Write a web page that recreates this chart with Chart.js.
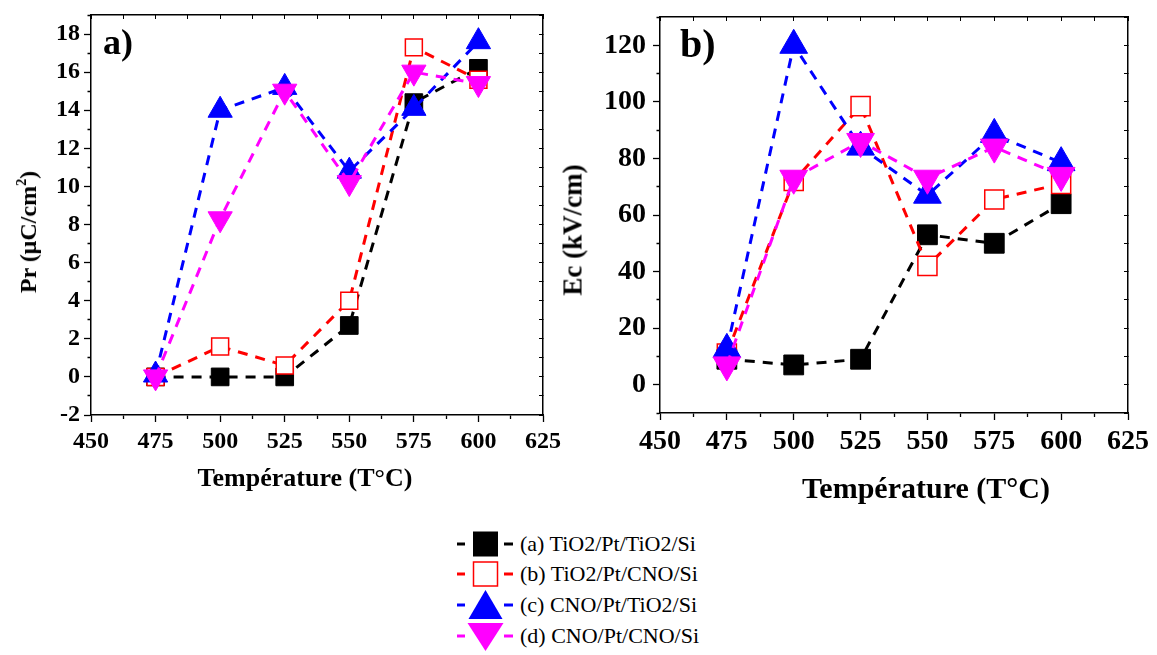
<!DOCTYPE html>
<html>
<head>
<meta charset="utf-8">
<script src="https://cdn.jsdelivr.net/npm/chart.js@4.4.0/dist/chart.umd.min.js"></script>
<style>
  body { margin: 0; background: #fff; width: 1157px; height: 655px; position: relative; overflow: hidden; font-family: "Liberation Serif", "Times New Roman", serif; }
  canvas { position: absolute; }
  .txt { position: absolute; font-weight: bold; white-space: nowrap; color: #000; line-height: 1; }
  .mid { transform: translate(-50%, -50%); }
  .rot { transform: translate(-50%, -50%) rotate(-90deg); }
  .lg { position: absolute; left: 452px; height: 32px; display: flex; align-items: center; }
  .lg span { font-size: 22px; margin-left: 4px; color: #000; }
  sup { font-size: 0.6em; vertical-align: 0.7em; line-height: 0; }
</style>
</head>
<body>
<canvas id="chartA" width="570" height="500" style="left:0;top:0"></canvas>
<canvas id="chartB" width="582" height="510" style="left:575px;top:0"></canvas>

<div class="txt" style="left:103px;top:24px;font-size:36px">a)</div>
<div class="txt" style="left:680px;top:24px;font-size:40px">b)</div>
<div class="txt mid" style="left:305px;top:478px;font-size:26px">Température (T°C)</div>
<div class="txt mid" style="left:926px;top:488px;font-size:30px">Température (T°C)</div>
<div class="txt rot" style="left:28px;top:232px;font-size:24px">Pr (μC/cm<sup>2</sup>)</div>
<div class="txt rot" style="left:573px;top:230px;font-size:27px">Ec (kV/cm)</div>

<div id="legend"></div>

<script>
// temperatures (°C)
const temps = [475, 500, 525, 550, 575, 600];

// panel a) remanent polarisation Pr (µC/cm²)
const prA = [0, 0, 0, 2.7, 14.4, 16.2];
const prB = [0, 1.6, 0.6, 4.0, 17.3, 15.6];
const prC = [0.1, 14.0, 15.2, 10.8, 14.1, 17.6];
const prD = [0, 8.3, 15.0, 10.2, 16.0, 15.4];

// panel b) coercive field Ec (kV/cm)
const ecA = [9, 7, 9, 53, 50, 64];
const ecB = [11, 72, 98.5, 42, 65.5, 71];
const ecC = [12.5, 120, 84, 67, 88.5, 78.5];
const ecD = [7, 73, 86, 73, 84, 74];

const seriesNames = ['(a) TiO2/Pt/TiO2/Si', '(b) TiO2/Pt/CNO/Si', '(c) CNO/Pt/TiO2/Si', '(d) CNO/Pt/CNO/Si'];
const seriesColors = ['#000000', '#ff0000', '#0000ff', '#ff00ff'];

// tick labels
const xLabels = [450, 475, 500, 525, 550, 575, 600, 625];
const prLabels = [-2, 0, 2, 4, 6, 8, 10, 12, 14, 16, 18];
const ecLabels = [0, 20, 40, 60, 80, 100, 120];

Chart.defaults.font.family = '"Liberation Serif", "Times New Roman", serif';
Chart.defaults.color = '#000';

function datasets(values, sq, tri) {
  const styles = [
    { pointStyle: 'rect', pointBackgroundColor: '#000', pointBorderColor: '#000', pointRadius: sq, pointBorderWidth: 1, order: 4 },
    { pointStyle: 'rect', pointBackgroundColor: '#fff', pointBorderColor: '#ff0000', pointRadius: sq - 0.5, pointBorderWidth: 1.5, order: 3 },
    { pointStyle: 'triangle', pointBackgroundColor: '#0000ff', pointBorderColor: '#0000ff', pointRadius: tri, pointBorderWidth: 1, order: 2 },
    { pointStyle: 'triangle', pointRotation: 180, pointBackgroundColor: '#ff00ff', pointBorderColor: '#ff00ff', pointRadius: tri, pointBorderWidth: 1, order: 1 }
  ];
  return values.map((v, i) => Object.assign({
    label: seriesNames[i],
    data: v,
    borderColor: seriesColors[i],
    borderWidth: 3,
    borderDash: [10, 8],
    tension: 0,
    fill: false,
    clip: false
  }, styles[i]));
}

function makeChart(id, values, opt) {
  const isMajorX = c => c.tick && xLabels.includes(c.tick.value);
  const isMajorY = c => c.tick && opt.yLabels.includes(c.tick.value);
  const zeroPad = s => { s.paddingLeft = 0; s.paddingRight = 0; s.paddingTop = 0; s.paddingBottom = 0; };
  const tickFont = { size: opt.tickSize, weight: 'bold' };

  return new Chart(document.getElementById(id), {
    type: 'line',
    data: { labels: temps, datasets: datasets(values, opt.sq, opt.tri) },
    options: {
      responsive: false,
      animation: false,
      layout: { padding: { left: 0, top: opt.padTop, right: opt.padRight, bottom: 0 } },
      plugins: { legend: { display: false }, tooltip: { enabled: false } },
      scales: {
        x: {
          type: 'linear', position: 'bottom', min: 450, max: 625,
          ticks: { stepSize: 12.5, autoSkip: false, maxRotation: 0, padding: opt.xPad, font: tickFont,
                   callback: v => xLabels.includes(v) ? v : '' },
          grid: { display: true, drawOnChartArea: false, tickLength: 7, tickColor: '#000', tickWidth: 1.3,
                  tickBorderDash: c => isMajorX(c) ? [] : [3.5, 20] },
          border: { display: true, color: '#000', width: 1.5 },
          afterFit: s => { s.height = opt.xHeight; zeroPad(s); }
        },
        x2: {
          type: 'linear', position: 'top', min: 450, max: 625,
          ticks: { display: false, stepSize: 12.5 },
          grid: { display: true, drawOnChartArea: false, tickLength: -4, tickColor: '#000', tickWidth: 1 },
          border: { display: true, color: '#000', width: 1.5 },
          afterFit: s => { s.height = 0; zeroPad(s); }
        },
        y: {
          type: 'linear', position: 'left', min: opt.yMin, max: opt.yMax,
          ticks: { stepSize: opt.yStep, autoSkip: false, padding: opt.yPad, font: tickFont,
                   callback: v => opt.yLabels.includes(v) ? v : '' },
          grid: { display: true, drawOnChartArea: false, tickLength: 7, tickColor: '#000', tickWidth: 1.3,
                  tickBorderDash: c => isMajorY(c) ? [] : [0, 3.5, 3.5, 20] },
          border: { display: true, color: '#000', width: 1.5 },
          afterFit: s => { s.width = opt.yWidth; zeroPad(s); }
        },
        y2: {
          type: 'linear', position: 'right', min: opt.yMin, max: opt.yMax,
          ticks: { display: false, stepSize: opt.yStep },
          grid: { display: true, drawOnChartArea: false, tickLength: -4, tickColor: '#000', tickWidth: 1 },
          border: { display: true, color: '#000', width: 1.5 },
          afterFit: s => { s.width = 0; zeroPad(s); }
        }
      }
    }
  });
}

makeChart('chartA', [prA, prB, prC, prD], {
  yMin: -2, yMax: 19, yStep: 1, yLabels: prLabels,
  padTop: 8, padRight: 27, xHeight: 85, yWidth: 91,
  tickSize: 24, xPad: 5, yPad: 4, sq: 12.5, tri: 14
});

makeChart('chartB', [ecA, ecB, ecC, ecD], {
  yMin: -10, yMax: 130, yStep: 10, yLabels: ecLabels,
  padTop: 7, padRight: 29, xHeight: 97, yWidth: 85,
  tickSize: 28, xPad: 5, yPad: 7, sq: 14, tri: 16
});

// legend below both panels
const legendTops = [528, 558, 589, 620];
const legend = document.getElementById('legend');
seriesNames.forEach((name, i) => {
  const c = seriesColors[i];
  let mark;
  if (i === 0) mark = `<rect x="21" y="3.5" width="25" height="25" fill="${c}"/>`;
  else if (i === 1) mark = `<rect x="21.5" y="4" width="24" height="24" fill="#fff" stroke="${c}" stroke-width="1.5"/>`;
  else if (i === 2) mark = `<polygon points="33.5,1 50.5,30 16.5,30" fill="${c}"/>`;
  else mark = `<polygon points="15.5,3 51.5,3 33.5,31" fill="${c}"/>`;
  const row = document.createElement('div');
  row.className = 'lg';
  row.style.top = legendTops[i] + 'px';
  row.innerHTML = `<svg width="64" height="32">
      <line x1="5" y1="16" x2="13" y2="16" stroke="${c}" stroke-width="3"/>
      ${mark}
      <line x1="52" y1="16" x2="61" y2="16" stroke="${c}" stroke-width="3"/>
    </svg><span>${name}</span>`;
  legend.appendChild(row);
});
</script>
</body>
</html>
